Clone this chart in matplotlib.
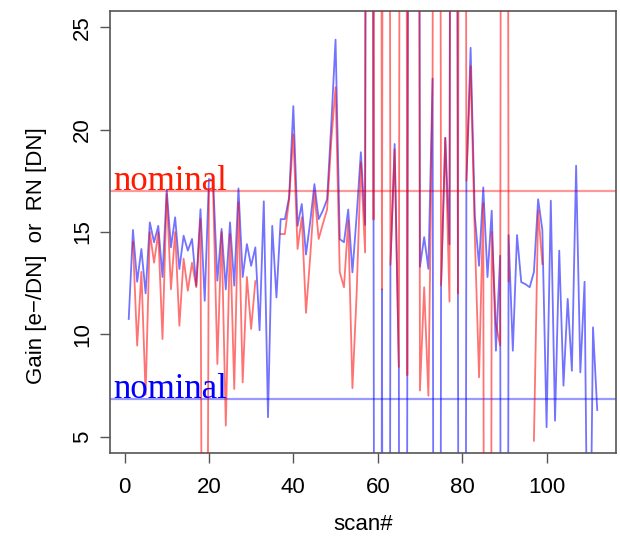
import numpy as np
import matplotlib
matplotlib.use("Agg")
import matplotlib.pyplot as plt

nan = np.nan
HI = 150.0   # off-scale high readings
LO = -120.0  # off-scale low readings

scan = list(range(1, 113))

gain = [10.75, 15.1, 12.57, 14.17, 12.0, 15.47, 14.5, 15.3, 12.8, 17.07,
        14.25, 15.72, 13.19, 14.82, 14.09, 14.66, 12.38, 16.11, 11.64, 17.59,
        17.5, 12.62, 15.15, 12.2, 15.47, 12.38, 17.13, 12.8, 14.41, 13.35,
        14.25, 10.2, 16.5, 5.95, 15.3, 11.8, 15.63, 15.63, 16.7, 21.15,
        15.3, 16.37, 13.9, 15.5, 17.34, 15.63, 16.05, 16.6, 20.3, 24.4,
        14.65, 14.5, 16.1, 13.03, 15.8, 18.9, 15.35, HI, 15.6, LO,
        12.2, LO, 13.4, 19.3, 8.4, LO, 8.0, HI, HI, 13.3,
        14.75, 13.2, 22.5, LO, 12.4, 19.6, 14.4, HI, 12.0, LO,
        17.5, 24.0, 15.8, 13.35, 17.18, 12.8, 16.04, 9.2, 13.84, LO,
        14.85, 9.2, 14.85, 12.55, 12.45, 12.3, 13.05, 16.6, 15.1, 5.46,
        16.53, 5.78, 14.09, 7.49, 11.73, 8.22, 18.24, 8.14, 12.57, -8.0,
        10.34, 6.3]

rn = [nan, 14.5, 9.45, 13.05, 7.05, 15.0, 13.5, 14.98, 9.77, 16.86,
      12.2, 15.0, 10.42, 13.7, 12.13, 13.5, 12.3, 15.63, -40.0, 17.1,
      17.0, 8.55, 15.0, 5.54, 14.9, 7.33, 16.45, 7.65, 12.8, 10.26,
      12.6, nan, nan, nan, nan, nan, 14.9, 14.9, 16.6, 19.77,
      14.17, 15.72, 11.05, 13.8, 16.9, 14.66, 15.4, 16.1, 19.5, 22.07,
      13.04, 12.3, 15.55, 7.37, 12.0, 18.4, 14.0, HI, 15.6, HI,
      12.2, HI, 13.4, 19.05, 8.4, HI, 8.0, HI, HI, 7.25,
      12.3, 7.0, 22.7, HI, 12.4, 19.6, 11.6, HI, 12.0, HI,
      17.5, 23.1, 14.8, 7.9, 16.4, LO, 15.0, 10.5, 9.45, HI,
      12.6, nan, nan, nan, nan, nan, 4.8, 16.04, 13.44, nan,
      nan, nan, nan, nan, nan, nan, nan, nan, nan, nan,
      nan, nan]

nominal_rn = 17.0
nominal_gain = 6.85

x_ticks = [0, 20, 40, 60, 80, 100]
y_ticks = [5, 10, 15, 20, 25]

fig = plt.figure(figsize=(6.2, 5.4), dpi=100)
ax = fig.add_axes([0.1774, 0.1611, 0.8161, 0.8185])

ax.plot(scan, gain, color="blue", alpha=0.55, lw=1.3, zorder=2)
ax.plot(scan, rn, color="red", alpha=0.55, lw=1.3, zorder=3)
ax.axhline(nominal_rn, color="red", alpha=0.4, lw=1.6, zorder=1)
ax.axhline(nominal_gain, color="blue", alpha=0.4, lw=1.6, zorder=1)

ax.text(-2.7, nominal_rn + 0.05, "nominal", color="#ff1a00",
        family="Liberation Serif", fontsize=25, va="baseline", ha="left")
ax.text(-2.7, nominal_gain + 0.05, "nominal", color="blue",
        family="Liberation Serif", fontsize=25, va="baseline", ha="left")

ax.set_xlim(-3.44, 116.44)
ax.set_ylim(4.2, 25.8)
ax.set_xticks(x_ticks)
ax.set_yticks(y_ticks)
ax.set_yticklabels([str(v) for v in y_ticks], rotation=90, va="center")

for s in ax.spines.values():
    s.set_color("#555555")
    s.set_linewidth(1.2)
ax.tick_params(direction="out", length=7, width=1.0, color="#555555",
               labelsize=16)
ax.tick_params(axis="x", pad=10)
ax.tick_params(axis="y", pad=5)
for lab in ax.get_xticklabels() + ax.get_yticklabels():
    lab.set_family("Liberation Sans")

ax.set_xlabel("scan#", family="Liberation Sans", fontsize=16)
ax.xaxis.set_label_coords(0.5, -0.138)
ax.set_ylabel("Gain [e\u2212/DN]  or  RN [DN]", family="Liberation Sans",
              fontsize=16)
ax.yaxis.set_label_coords(-0.125, 0.446)

fig.savefig("out.png", dpi=100)
